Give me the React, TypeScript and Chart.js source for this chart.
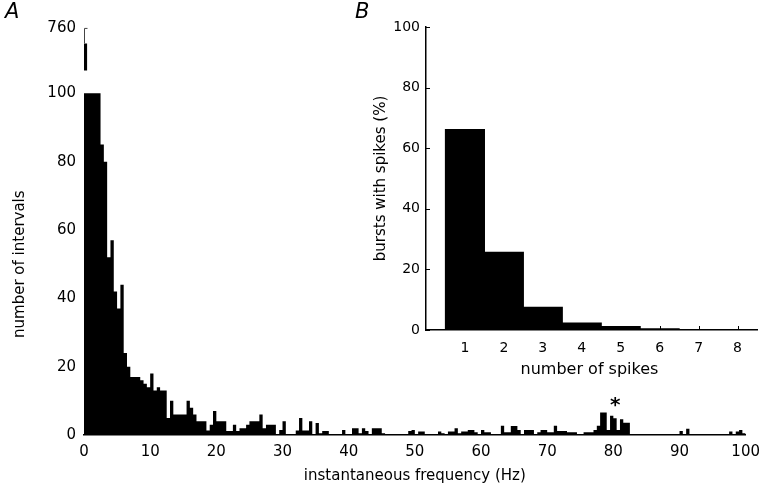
import React, { useEffect, useRef } from "react";
import { Chart, registerables } from "chart.js";

Chart.register(...registerables);

const FONT = '"DejaVu Sans", "Liberation Sans", Arial, sans-serif';

// ---------- Panel A: interval histogram ----------
const BIN_WIDTH_HZ = 0.5;
const intervalCounts = [
  760, 100, 100, 100, 100, 85, 80, 52, 57, 42,
  37, 44, 24, 20, 17, 17, 17, 16, 15, 14,
  18, 13, 14, 13, 13, 5, 10, 6, 6, 6,
  6, 10, 8, 6, 4, 4, 4, 1.3, 3, 7,
  4, 4, 4, 1.2, 1.2, 3, 1.2, 2, 2, 3,
  4, 4, 4, 6, 2, 3, 3, 3, 0, 1.5,
  4, 0, 0, 0, 1.3, 5, 1.3, 1.3, 4, 0,
  3.5, 0.5, 1.2, 1.2, 0.3, 0.3, 0.3, 0.3, 1.5, 0,
  0, 2, 2, 0.5, 2, 1.2, 0, 2, 2, 2,
  0.5, 0, 0, 0, 0, 0, 0.3, 0, 1.2, 1.5,
  0, 1, 1, 0, 0, 0, 0, 1, 0.5, 0,
  1, 1, 2, 0.5, 1, 1, 1.5, 1.5, 0.8, 0,
  1.5, 0.8, 0.8, 0, 0, 0, 2.7, 0.8, 0.8, 2.6,
  2.6, 1.5, 0, 1.5, 1.5, 1.5, 0.3, 0.8, 1.5, 1.5,
  0.8, 0.8, 2.7, 1.2, 1.2, 1.2, 0.8, 0.8, 0.8, 0.3,
  0.3, 0.8, 0.8, 0.8, 1.5, 2.7, 6.6, 6.6, 1.5, 5.6,
  4.9, 1.5, 4.6, 3.6, 3.6, 0, 0, 0, 0, 0,
  0, 0, 0, 0, 0, 0, 0, 0, 0, 0,
  1.2, 0, 1.8, 0, 0, 0, 0, 0, 0, 0,
  0, 0, 0, 0, 0, 1, 0.3, 1, 1.5, 0.5,
];
const freqTicks = [0, 10, 20, 30, 40, 50, 60, 70, 80, 90, 100];
const countTicks = [0, 20, 40, 60, 80, 100];
const AXIS_CLIP = 100;
const BREAK_FROM = 106.7;
const BREAK_TO = 114.6;
const BREAK_TICK = 119;
const BREAK_LABEL = "760";
const STAR_HZ = 80.3;
const STAR_LEVEL = 9.5;

// ---------- Panel B: spikes per burst ----------
const spikeNumbers = [1, 2, 3, 4, 5, 6, 7, 8];
const burstPercent = [66.3, 25.8, 7.7, 2.5, 1.3, 0.55, 0.15, 0.1];
const percentTicks = [0, 20, 40, 60, 80, 100];

const mainDecor = {
  id: "mainDecor",
  afterDraw(chart: any) {
    const { ctx, chartArea } = chart;
    const x = chart.scales.x;
    const y = chart.scales.y;
    ctx.save();
    // broken axis stub with the 760 tick
    ctx.strokeStyle = "#444";
    ctx.lineWidth = 1;
    const ax = chartArea.left + 0.5;
    ctx.beginPath();
    ctx.moveTo(ax, y.getPixelForValue(BREAK_TO));
    ctx.lineTo(ax, y.getPixelForValue(BREAK_TICK));
    ctx.lineTo(ax + 3, y.getPixelForValue(BREAK_TICK));
    ctx.stroke();
    // asterisk
    ctx.fillStyle = "#000";
    ctx.textAlign = "center";
    ctx.textBaseline = "middle";
    ctx.font = `bold 20px ${FONT}`;
    ctx.fillText("*", x.getPixelForValue(STAR_HZ), y.getPixelForValue(STAR_LEVEL) + 3);
    // x title
    ctx.font = `15px ${FONT}`;
    ctx.fillText("instantaneous frequency (Hz)", (chartArea.left + chartArea.right) / 2, 476);
    // y title
    ctx.save();
    ctx.translate(20, y.getPixelForValue(50));
    ctx.rotate(-Math.PI / 2);
    ctx.fillText("number of intervals", 0, 0);
    ctx.restore();
    // panel letters
    ctx.textAlign = "left";
    ctx.textBaseline = "alphabetic";
    ctx.font = `italic 21px ${FONT}`;
    ctx.fillText("A", 5, 18);
    ctx.fillText("B", 355, 18);
    ctx.restore();
  },
};

const insetDecor = {
  id: "insetDecor",
  afterDraw(chart: any) {
    const { ctx, chartArea } = chart;
    const x = chart.scales.x;
    const y = chart.scales.y;
    ctx.save();
    ctx.strokeStyle = "#000";
    ctx.lineWidth = 1;
    ctx.beginPath();
    for (const v of percentTicks) {
      const py = Math.round(y.getPixelForValue(v)) + 0.5;
      ctx.moveTo(chartArea.left, py);
      ctx.lineTo(chartArea.left + 4, py);
    }
    for (const v of spikeNumbers) {
      const px = Math.round(x.getPixelForValue(v)) + 0.5;
      ctx.moveTo(px, chartArea.bottom);
      ctx.lineTo(px, chartArea.bottom - 4);
    }
    ctx.stroke();
    ctx.fillStyle = "#000";
    ctx.textAlign = "center";
    ctx.textBaseline = "middle";
    ctx.font = `16px ${FONT}`;
    ctx.fillText("number of spikes", (chartArea.left + chartArea.right) / 2 - 2, 370);
    ctx.font = `15px ${FONT}`;
    ctx.translate(381, (chartArea.top + chartArea.bottom) / 2);
    ctx.rotate(-Math.PI / 2);
    ctx.fillText("bursts with spikes (%)", 0, 0);
    ctx.restore();
  },
};

export default function App() {
  const mainRef = useRef<HTMLCanvasElement | null>(null);
  const insetRef = useRef<HTMLCanvasElement | null>(null);

  useEffect(() => {
    // histogram outline: one point per bin's left edge, closed at the last edge
    const edges = intervalCounts.map((v, i) => ({ x: i * BIN_WIDTH_HZ, y: Math.min(v, AXIS_CLIP) }));
    edges.push({ x: intervalCounts.length * BIN_WIDTH_HZ, y: 0 });
    const breakPieces = intervalCounts.flatMap((v, i) =>
      v > AXIS_CLIP
        ? [
            { x: i * BIN_WIDTH_HZ, y: BREAK_TO },
            { x: (i + 1) * BIN_WIDTH_HZ, y: BREAK_TO },
          ]
        : []
    );
    const tickFont = { family: FONT, size: 15 };
    const main = new Chart(mainRef.current as HTMLCanvasElement, {
      type: "line",
      data: {
        datasets: [
          {
            data: edges,
            stepped: "before",
            fill: "origin",
            backgroundColor: "#000",
            borderColor: "rgba(0,0,0,0)",
            borderWidth: 0,
            pointRadius: 0,
          } as any,
          {
            data: breakPieces,
            fill: { value: BREAK_FROM },
            backgroundColor: "#000",
            borderColor: "rgba(0,0,0,0)",
            borderWidth: 0,
            pointRadius: 0,
          } as any,
        ],
      },
      options: {
        animation: false,
        responsive: false,
        maintainAspectRatio: false,
        layout: { padding: { left: 0, right: 16, top: 25, bottom: 0 } },
        plugins: { legend: { display: false }, tooltip: { enabled: false } },
        scales: {
          x: {
            type: "linear",
            min: 0,
            max: 100,
            offset: false,
            afterBuildTicks: (s: any) => {
              s.ticks = freqTicks.map((v) => ({ value: v }));
            },
            ticks: { font: tickFont, color: "#000", padding: 8, autoSkip: false, maxRotation: 0 },
            grid: { display: true, drawOnChartArea: false, drawTicks: false, offset: false },
            border: { display: true, color: "#000", width: 1.5, z: 1 },
            afterFit: (s: any) => {
              s.height = 61;
            },
          },
          y: {
            type: "linear",
            min: 0,
            max: 120,
            afterBuildTicks: (s: any) => {
              s.ticks = [...countTicks, BREAK_TICK].map((v) => ({ value: v }));
            },
            ticks: {
              font: tickFont,
              color: "#000",
              padding: 8,
              callback: (v: any) => (v === BREAK_TICK ? BREAK_LABEL : String(v)),
            },
            grid: { display: false, drawTicks: false },
            border: { display: false },
            afterFit: (s: any) => {
              s.width = 84;
            },
          },
        },
      } as any,
      plugins: [mainDecor],
    });

    const insetFont = { family: FONT, size: 14 };
    const inset = new Chart(insetRef.current as HTMLCanvasElement, {
      type: "bar",
      data: {
        datasets: [
          {
            data: spikeNumbers.map((n, i) => ({ x: n, y: burstPercent[i] })),
            backgroundColor: "#000",
            borderWidth: 0,
            barPercentage: 1.03,
            categoryPercentage: 1,
          } as any,
        ],
      },
      options: {
        animation: false,
        responsive: false,
        maintainAspectRatio: false,
        layout: { padding: { left: 0, right: 11, top: 27, bottom: 0 } },
        plugins: { legend: { display: false }, tooltip: { enabled: false } },
        scales: {
          x: {
            type: "linear",
            min: 0,
            max: 8.5,
            offset: false,
            afterBuildTicks: (s: any) => {
              s.ticks = spikeNumbers.map((v) => ({ value: v }));
            },
            ticks: { font: insetFont, color: "#000", padding: 10, autoSkip: false, maxRotation: 0 },
            grid: { display: true, drawOnChartArea: false, drawTicks: false, offset: false },
            border: { display: true, color: "#000", width: 1.5 },
            afterFit: (s: any) => {
              s.height = 166;
            },
          },
          y: {
            type: "linear",
            min: 0,
            max: 100,
            afterBuildTicks: (s: any) => {
              s.ticks = percentTicks.map((v) => ({ value: v }));
            },
            ticks: { font: insetFont, color: "#000", padding: 6 },
            grid: { display: true, drawOnChartArea: false, drawTicks: false },
            border: { display: true, color: "#000", width: 1.5 },
            afterFit: (s: any) => {
              s.width = 426;
            },
          },
        },
      } as any,
      plugins: [insetDecor],
    });

    return () => {
      main.destroy();
      inset.destroy();
    };
  }, []);

  return (
    <div
      style={{
        position: "fixed",
        left: 0,
        top: 0,
        width: 768,
        height: 496,
        background: "#fff",
      }}
    >
      <canvas
        ref={mainRef}
        width={768}
        height={496}
        style={{ position: "absolute", left: 0, top: 0, width: 768, height: 496 }}
      />
      <canvas
        ref={insetRef}
        width={768}
        height={496}
        style={{ position: "absolute", left: 0, top: 0, width: 768, height: 496 }}
      />
    </div>
  );
}
